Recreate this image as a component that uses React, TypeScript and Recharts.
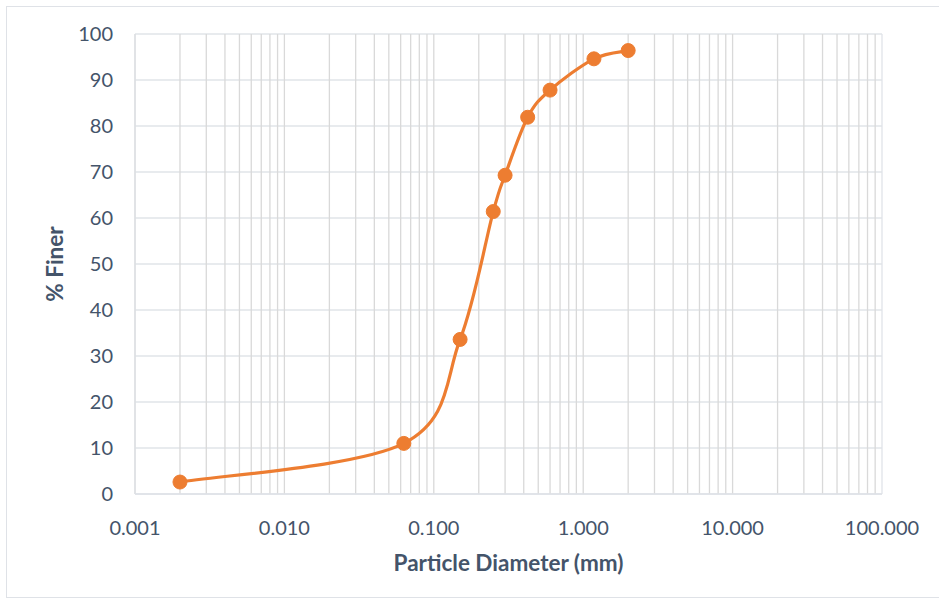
import React from "react";
import {
  LineChart,
  Line,
  XAxis,
  YAxis,
  CartesianGrid,
  ReferenceLine,
  Label,
} from "recharts";

// sieve / hydrometer results
const diameters = [0.002, 0.063, 0.15, 0.25, 0.3, 0.425, 0.6, 1.18, 2.0];
const percentFiner = [2.6, 11.0, 33.6, 61.4, 69.3, 81.9, 87.8, 94.6, 96.4];

const xTicks = [0.001, 0.01, 0.1, 1, 10, 100];
const yTicks = [0, 10, 20, 30, 40, 50, 60, 70, 80, 90, 100];

// log grid: every 1..9 within each decade
const decades = [0.001, 0.01, 0.1, 1, 10];
const multipliers = [1, 2, 3, 4, 5, 6, 7, 8, 9];

const data = diameters.map((d, i) => ({ d, finer: percentFiner[i] }));
const gridValues = decades
  .flatMap((dec) => multipliers.map((m) => +(dec * m).toPrecision(3)))
  .concat([100]);

const TEXT = "#44546a";
const ORANGE = "#ed7d31";
const FONT = "Lato, 'Open Sans', sans-serif";

// spreadsheet-style smoothed line (Catmull-Rom through the points)
const smoothCurve = (context: any) => {
  let pts: number[][] = [];
  return {
    areaStart() {},
    areaEnd() {},
    lineStart() {
      pts = [];
    },
    point(x: number, y: number) {
      pts.push([+x, +y]);
    },
    lineEnd() {
      if (!pts.length) return;
      context.moveTo(pts[0][0], pts[0][1]);
      for (let i = 0; i < pts.length - 1; i++) {
        const p0 = pts[i - 1] || pts[i];
        const p1 = pts[i];
        const p2 = pts[i + 1];
        const p3 = pts[i + 2] || p2;
        context.bezierCurveTo(
          p1[0] + (p2[0] - p0[0]) / 6,
          p1[1] + (p2[1] - p0[1]) / 6,
          p2[0] - (p3[0] - p1[0]) / 6,
          p2[1] - (p3[1] - p1[1]) / 6,
          p2[0],
          p2[1]
        );
      }
    },
  };
};

export default function App() {
  return (
    <div
      style={{
        position: "absolute",
        left: 0,
        top: 0,
        width: 939,
        height: 607,
        background: "#fff",
        overflow: "hidden",
      }}
    >
      <div
        style={{
          position: "absolute",
          left: 6,
          top: 6,
          width: 960,
          height: 590,
          border: "1px solid #dfe2e7",
        }}
      />
      <LineChart
        width={939}
        height={607}
        data={data}
        margin={{ top: 34, right: 57, left: 0, bottom: 0 }}
        style={{ fontFamily: FONT }}
      >
        <CartesianGrid vertical={false} stroke="#e1e4e9" strokeWidth={1.3} />
        {gridValues.map((v) => (
          <ReferenceLine
            key={v}
            x={v}
            stroke={v === 100 ? "#e1e4e9" : "#d9d9d9"}
            strokeWidth={1.3}
          />
        ))}
        <XAxis
          dataKey="d"
          type="number"
          scale="log"
          domain={[0.001, 100]}
          ticks={xTicks}
          allowDataOverflow
          tickFormatter={(v: number) => v.toFixed(3)}
          tick={{ fill: TEXT, fontSize: 20 }}
          tickLine={false}
          tickSize={0}
          tickMargin={27}
          axisLine={{ stroke: "#dfe2e7", strokeWidth: 1.3 }}
          height={113}
        >
          <Label
            value="Particle Diameter (mm)"
            position="insideBottom"
            offset={36}
            style={{ fill: TEXT, fontSize: 22.5, fontWeight: 700 }}
          />
        </XAxis>
        <YAxis
          type="number"
          domain={[0, 100]}
          ticks={yTicks}
          tick={{ fill: TEXT, fontSize: 20 }}
          tickLine={false}
          tickSize={0}
          tickMargin={22}
          axisLine={{ stroke: "#dfe2e7", strokeWidth: 1.3 }}
          width={135}
        >
          <Label
            value="% Finer"
            angle={-90}
            position="insideLeft"
            offset={55}
            style={{
              fill: TEXT,
              fontSize: 22.5,
              fontWeight: 700,
              textAnchor: "middle",
            }}
          />
        </YAxis>
        <Line
          type={smoothCurve as any}
          dataKey="finer"
          stroke={ORANGE}
          strokeWidth={3.2}
          dot={{ r: 7, fill: ORANGE, stroke: ORANGE, strokeWidth: 1 }}
          isAnimationActive={false}
        />
      </LineChart>
    </div>
  );
}
